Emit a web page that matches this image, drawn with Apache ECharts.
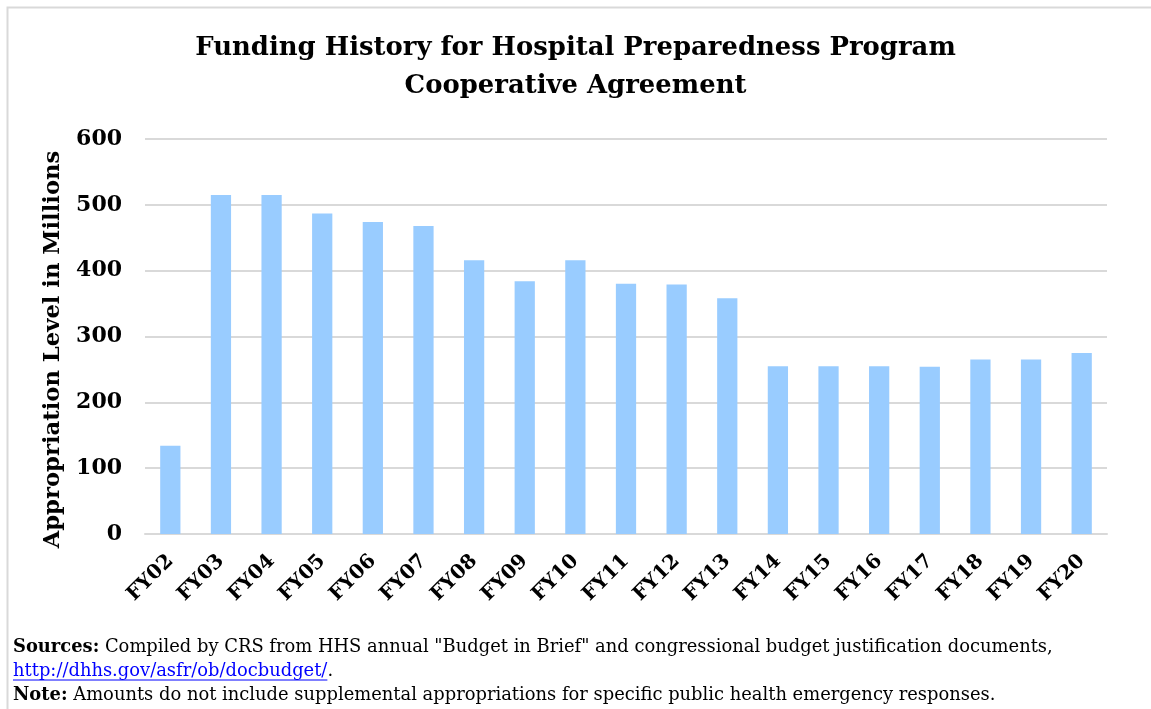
<!DOCTYPE html>
<html>
<head>
<meta charset="utf-8">
<script src="https://cdn.jsdelivr.net/npm/echarts@6/dist/echarts.min.js"></script>
<style>
html,body{margin:0;padding:0;background:#fff;}
#chart{width:1151px;height:709px;}
</style>
</head>
<body>
<div id="chart"></div>
<script>
const categories = ['FY02','FY03','FY04','FY05','FY06','FY07','FY08','FY09','FY10','FY11','FY12','FY13','FY14','FY15','FY16','FY17','FY18','FY19','FY20'];
const appropriations = [134,515,515,487,474,468,416,384,416,380,379,358,255,255,255,254,265,265,275];
const yTicks = [0,100,200,300,400,500,600];

const titleText = 'Funding History for Hospital Preparedness Program\nCooperative Agreement';
const yAxisName = 'Appropriation Level in Millions';
const sourcesLabel = 'Sources:';
const sourcesText = ' Compiled by CRS from HHS annual "Budget in Brief" and congressional budget justification documents,';
const linkText = 'http://dhhs.gov/asfr/ob/docbudget/';
const noteLabel = 'Note:';
const noteText = ' Amounts do not include supplemental appropriations for specific public health emergency responses.';

const serif = '"DejaVu Serif", "Liberation Serif", serif';
const chart = echarts.init(document.getElementById('chart'), null, {renderer: 'canvas'});

const ctx = document.createElement('canvas').getContext('2d');
function fitSize(text, weight, targetWidth) {
  ctx.font = weight + ' 100px ' + serif;
  return Math.round(100 * targetWidth / ctx.measureText(text).width * 10) / 10;
}
const titleSize = Math.min(30, fitSize('Funding History for Hospital Preparedness Program', 'bold', 762));
const footSize = Math.min(19, fitSize('Sources: Compiled by CRS from HHS annual "Budget in Brief" and congressional budget justification documents,', 'normal', 1033));
const nameSize = Math.min(26, fitSize(yAxisName, 'bold', 398));

chart.setOption({
  animation: false,
  backgroundColor: '#ffffff',
  title: {
    text: titleText,
    left: 'center',
    top: 24,
    textStyle: {fontFamily: serif, fontWeight: 'bold', fontSize: titleSize, color: '#000', lineHeight: 38}
  },
  grid: {left: 145, right: 44, top: 139, bottom: 175, containLabel: false},
  xAxis: {
    type: 'category',
    data: categories,
    axisLine: {show: true, lineStyle: {color: '#d9d9d9', width: 2}},
    axisTick: {show: false},
    axisLabel: {
      rotate: 45, interval: 0, margin: 24,
      fontFamily: serif, fontWeight: 'bold', fontSize: 20, color: '#000'
    }
  },
  yAxis: {
    type: 'value',
    min: yTicks[0], max: yTicks[yTicks.length - 1], interval: 100,
    name: yAxisName,
    nameLocation: 'middle',
    nameGap: 80,
    nameTextStyle: {fontFamily: serif, fontWeight: 'bold', fontSize: nameSize, color: '#000', padding: [0, 26, 0, 0]},
    axisLine: {show: false},
    axisTick: {show: false},
    splitLine: {lineStyle: {color: '#d9d9d9', width: 2}},
    axisLabel: {fontFamily: serif, fontWeight: 'bold', fontSize: 22, color: '#000', margin: 23}
  },
  series: [{
    type: 'bar',
    data: appropriations,
    barWidth: '40%',
    itemStyle: {color: '#99ccff'}
  }],
  graphic: [
    {
      type: 'rect', left: 5, top: 5, silent: true, z: -1,
      shape: {x: 0, y: 0, width: 1200, height: 800},
      style: {fill: 'none', stroke: '#d9d9d9', lineWidth: 2}
    },
    {
      type: 'text', left: 13, top: 638,
      style: {
        text: '{b|' + sourcesLabel + '}{n|' + sourcesText + '}',
        rich: {
          b: {fontFamily: serif, fontWeight: 'bold', fontSize: footSize, fill: '#000'},
          n: {fontFamily: serif, fontSize: footSize, fill: '#000'}
        }
      }
    },
    {
      type: 'text', left: 13, top: 662,
      style: {
        text: '{l|' + linkText + '}{n|.}',
        rich: {
          l: {fontFamily: serif, fontSize: footSize, fill: '#0000ff'},
          n: {fontFamily: serif, fontSize: footSize, fill: '#000'}
        }
      }
    },
    {
      type: 'text', left: 13, top: 686,
      style: {
        text: '{b|' + noteLabel + '}{n|' + noteText + '}',
        rich: {
          b: {fontFamily: serif, fontWeight: 'bold', fontSize: footSize, fill: '#000'},
          n: {fontFamily: serif, fontSize: footSize, fill: '#000'}
        }
      }
    }
  ]
});

ctx.font = footSize + 'px ' + serif;
const lw = ctx.measureText(linkText).width;
chart.setOption({
  graphic: [
    {}, {}, {}, {},
    {
      type: 'line', silent: true,
      shape: {x1: 13, y1: 680, x2: 13 + lw, y2: 680},
      style: {stroke: '#0000ff', lineWidth: 1}
    }
  ]
});
</script>
</body>
</html>
